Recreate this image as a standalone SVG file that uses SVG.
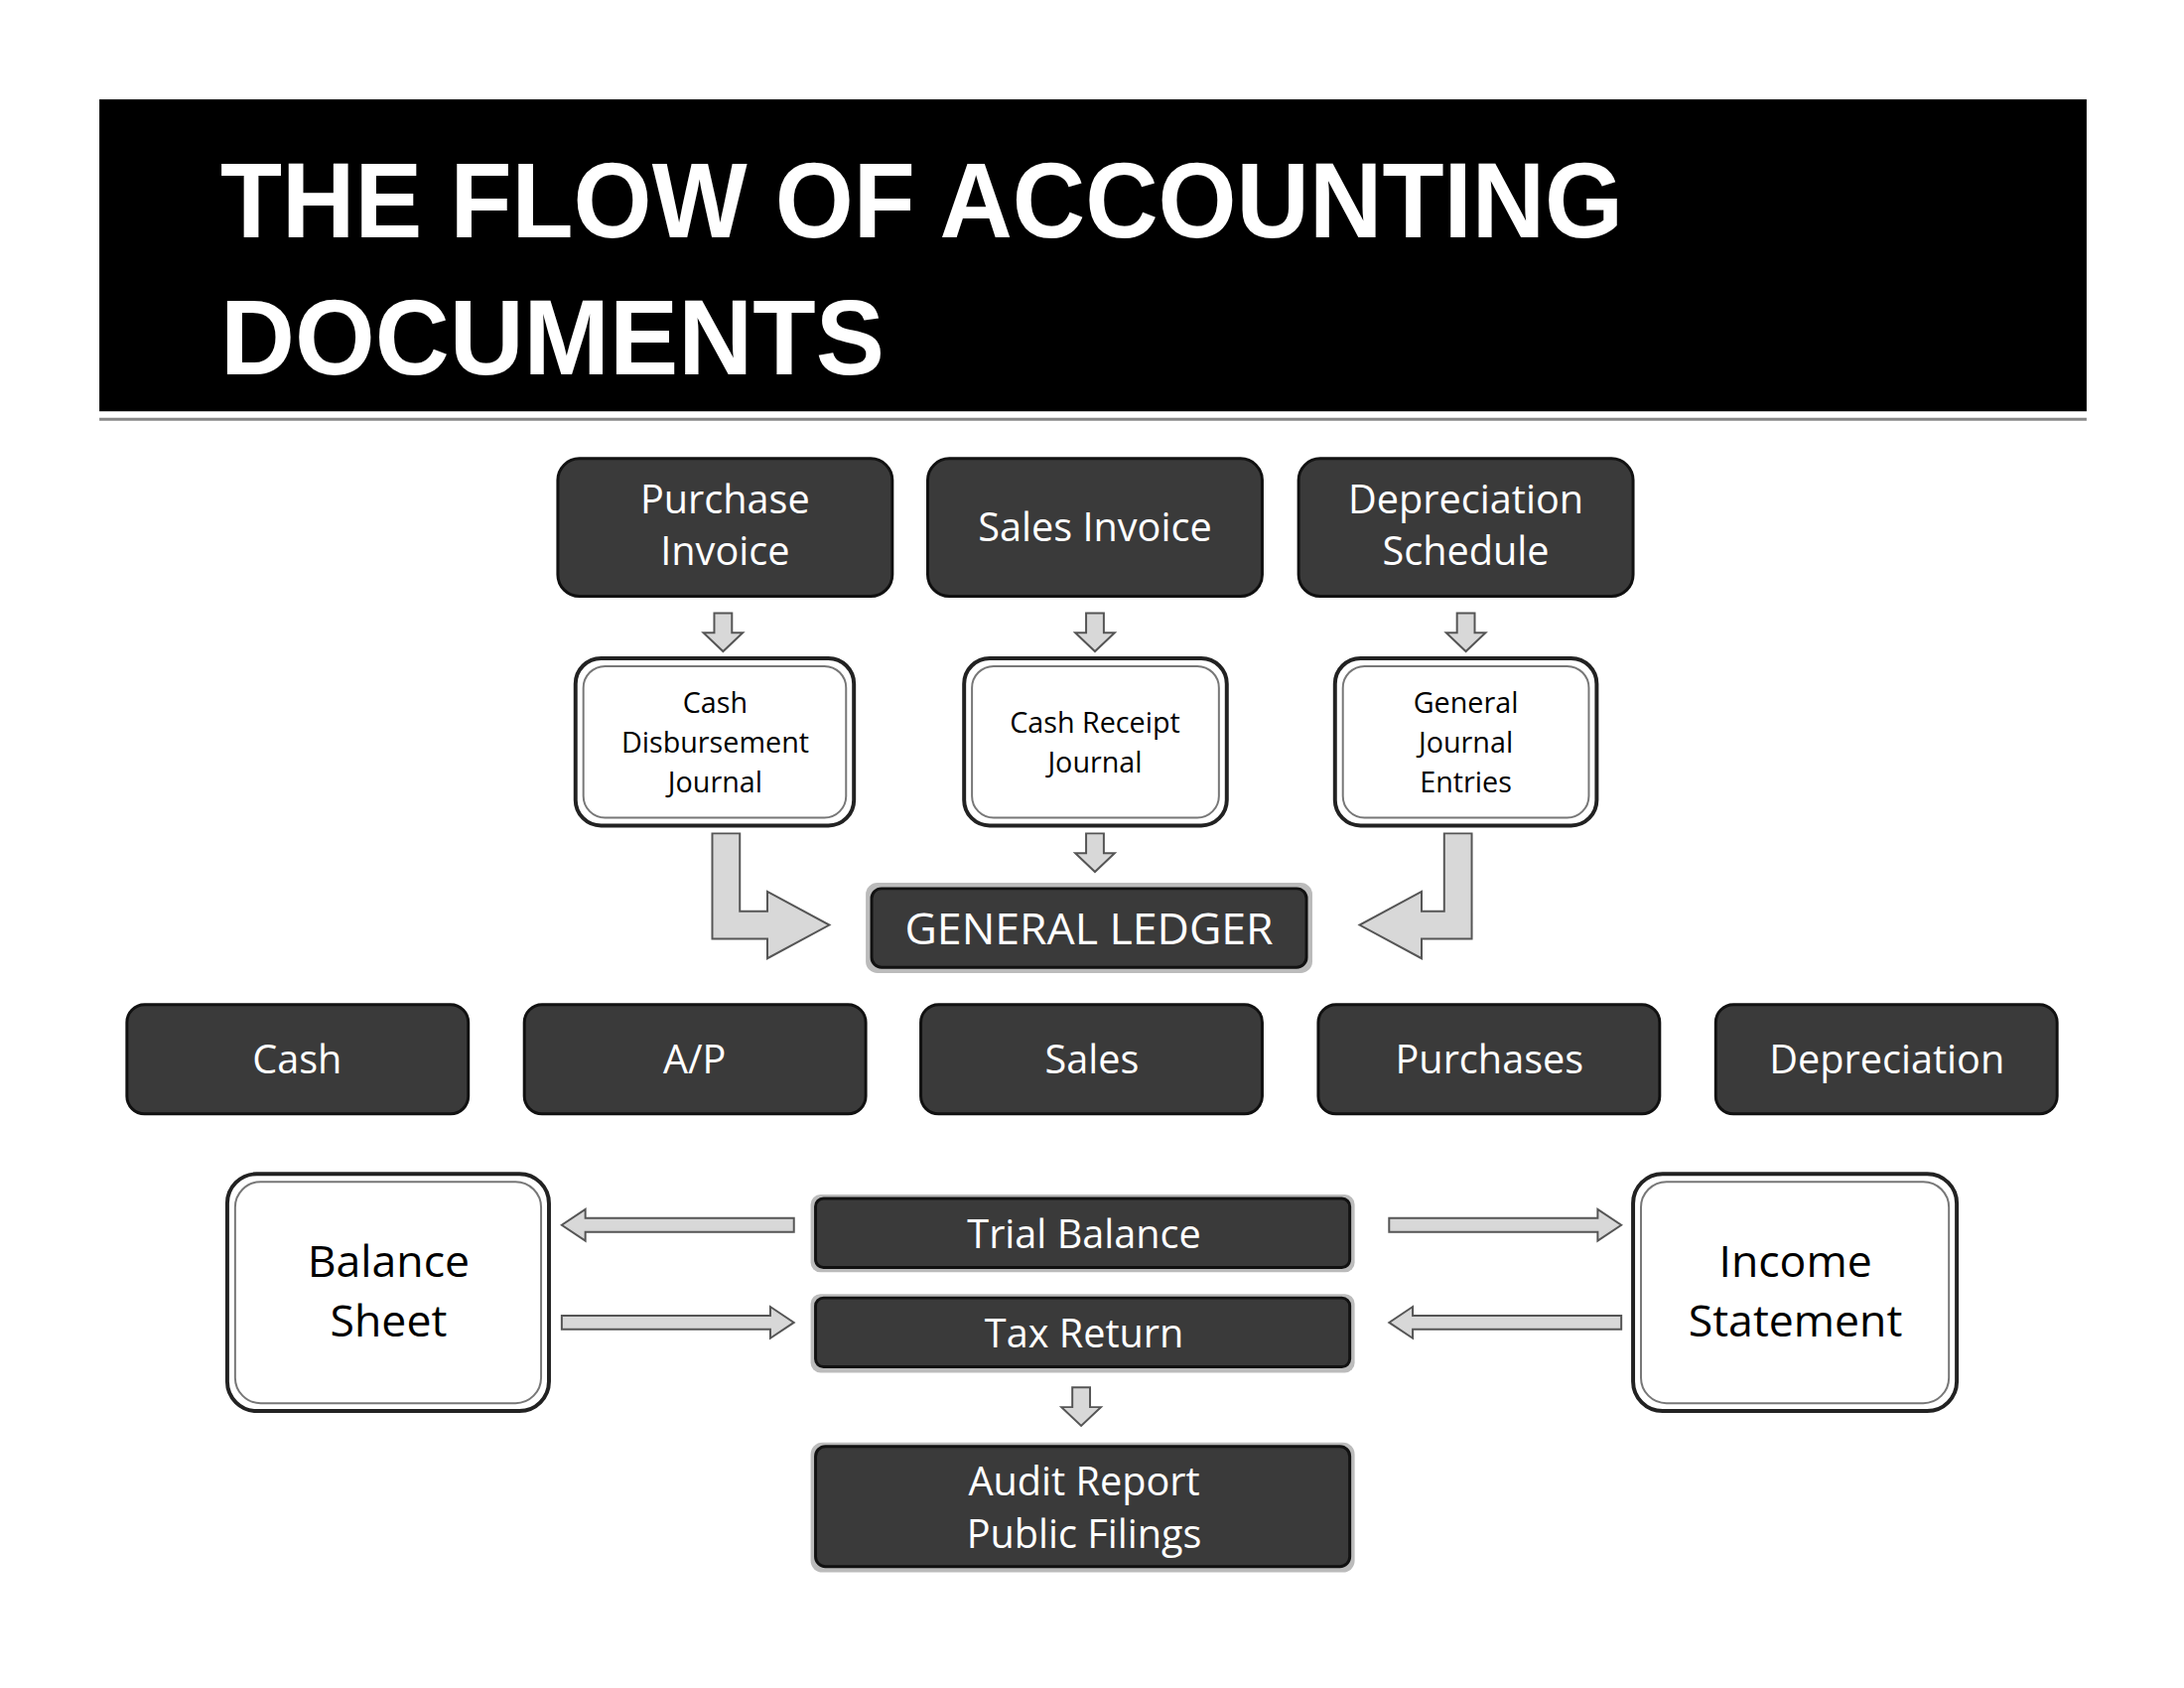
<svg xmlns="http://www.w3.org/2000/svg" width="2200" height="1700" viewBox="0 0 2200 1700">
<style>
.dk{fill:#3a3a3a;stroke:#111;stroke-width:3}
.wt{fill:#fff;stroke:#222;stroke-width:4}
.wt2{fill:none;stroke:#777;stroke-width:2}
.ar{fill:#d8d8d8;stroke:#555;stroke-width:2}
.t{font-family:"Open Sans","Liberation Sans",sans-serif;text-anchor:middle}
.w{fill:#fff}
.b{fill:#000}
</style>
<rect width="2200" height="1700" fill="#fff"/>
<g transform="scale(0.991)">
<rect x="101" y="101" width="2020" height="317" fill="#000"/>
<line x1="101" y1="426" x2="2121" y2="426" stroke="#888" stroke-width="3"/>
<text x="224" y="241" font-family="Liberation Sans,sans-serif" font-weight="bold" font-size="108" fill="#fff" textLength="1426" lengthAdjust="spacingAndGlyphs">THE FLOW OF ACCOUNTING</text>
<text x="224" y="380" font-family="Liberation Sans,sans-serif" font-weight="bold" font-size="108" fill="#fff" textLength="675" lengthAdjust="spacingAndGlyphs">DOCUMENTS</text>

<g id="connectors">
<path class="ar" d="M726,623 h18 v20 h11 l-20,19 l-20,-19 h11z"/>
<path class="ar" d="M1104,623 h18 v20 h11 l-20,19 l-20,-19 h11z"/>
<path class="ar" d="M1481,623 h18 v20 h11 l-20,19 l-20,-19 h11z"/>
<path class="ar" d="M1104,847 h18 v20 h11 l-20,19 l-20,-19 h11z"/>
<path class="ar" d="M1090,1410 h18 v20 h11 l-20,19 l-20,-19 h11z"/>
<path class="ar" d="M724,847 h28 v79 h28 v-20 l63,34 l-63,34 v-20 h-56z"/>
<path class="ar" d="M1496,847 h-28 v79 h-23 v-20 l-63,34 l63,34 v-20 h51z"/>
<path class="ar" d="M807,1238 v14 h-212 v9 l-24,-16 l24,-16 v9z"/>
<path class="ar" d="M571,1337 v14 h212 v9 l24,-16 l-24,-16 v9z"/>
<path class="ar" d="M1412,1238 v14 h212 v9 l24,-16 l-24,-16 v9z"/>
<path class="ar" d="M1648,1337 v14 h-212 v9 l-24,-16 l24,-16 v9z"/>
</g>

<g id="purchase-invoice"><rect class="dk" x="567" y="466" width="340" height="140" rx="22"/><text class="t w" x="737" y="522" font-size="40">Purchase</text><text class="t w" x="737" y="574" font-size="40">Invoice</text></g>
<g id="sales-invoice"><rect class="dk" x="943" y="466" width="340" height="140" rx="22"/><text class="t w" x="1113" y="550" font-size="40">Sales Invoice</text></g>
<g id="depreciation-schedule"><rect class="dk" x="1320" y="466" width="340" height="140" rx="22"/><text class="t w" x="1490" y="522" font-size="40">Depreciation</text><text class="t w" x="1490" y="574" font-size="40">Schedule</text></g>

<g id="cash-disbursement"><rect class="wt" x="585" y="669" width="283" height="170" rx="26"/><rect class="wt2" x="593" y="677" width="267" height="154" rx="22"/><text class="t b" x="727" y="725" font-size="29">Cash</text><text class="t b" x="727" y="765" font-size="29">Disbursement</text><text class="t b" x="727" y="805" font-size="29">Journal</text></g>
<g id="cash-receipt"><rect class="wt" x="980" y="669" width="267" height="170" rx="26"/><rect class="wt2" x="988" y="677" width="251" height="154" rx="22"/><text class="t b" x="1113" y="745" font-size="29">Cash Receipt</text><text class="t b" x="1113" y="785" font-size="29">Journal</text></g>
<g id="general-journal"><rect class="wt" x="1357" y="669" width="266" height="170" rx="26"/><rect class="wt2" x="1365" y="677" width="250" height="154" rx="22"/><text class="t b" x="1490" y="725" font-size="29">General</text><text class="t b" x="1490" y="765" font-size="29">Journal</text><text class="t b" x="1490" y="805" font-size="29">Entries</text></g>

<g id="general-ledger"><rect x="880" y="897" width="454" height="92" rx="12" fill="#bbb"/><rect class="dk" x="886" y="903" width="442" height="80" rx="10"/><text class="t w" x="1107" y="960" font-size="45">GENERAL LEDGER</text></g>

<g id="cash"><rect class="dk" x="129" y="1021" width="347" height="111" rx="18"/><text class="t w" x="302" y="1091" font-size="40">Cash</text></g>
<g id="ap"><rect class="dk" x="533" y="1021" width="347" height="111" rx="18"/><text class="t w" x="706" y="1091" font-size="40">A/P</text></g>
<g id="sales"><rect class="dk" x="936" y="1021" width="347" height="111" rx="18"/><text class="t w" x="1110" y="1091" font-size="40">Sales</text></g>
<g id="purchases"><rect class="dk" x="1340" y="1021" width="347" height="111" rx="18"/><text class="t w" x="1514" y="1091" font-size="40">Purchases</text></g>
<g id="depreciation"><rect class="dk" x="1744" y="1021" width="347" height="111" rx="18"/><text class="t w" x="1918" y="1091" font-size="40">Depreciation</text></g>

<g id="balance-sheet"><rect class="wt" x="231" y="1193" width="327" height="241" rx="30"/><rect class="wt2" x="239" y="1201" width="311" height="225" rx="26"/><text class="t b" x="395" y="1298" font-size="45">Balance</text><text class="t b" x="395" y="1358" font-size="45">Sheet</text></g>
<g id="income-statement"><rect class="wt" x="1660" y="1193" width="329" height="241" rx="30"/><rect class="wt2" x="1668" y="1201" width="313" height="225" rx="26"/><text class="t b" x="1825" y="1298" font-size="45">Income</text><text class="t b" x="1825" y="1358" font-size="45">Statement</text></g>

<g id="trial-balance"><rect x="824" y="1214" width="553" height="79" rx="10" fill="#bbb"/><rect class="dk" x="829" y="1218" width="543" height="70" rx="8"/><text class="t w" x="1102" y="1268" font-size="40">Trial Balance</text></g>
<g id="tax-return"><rect x="824" y="1315" width="553" height="80" rx="10" fill="#bbb"/><rect class="dk" x="829" y="1319" width="543" height="70" rx="8"/><text class="t w" x="1102" y="1369" font-size="40">Tax Return</text></g>
<g id="audit-report"><rect x="824" y="1466" width="553" height="132" rx="12" fill="#bbb"/><rect class="dk" x="829" y="1470" width="543" height="122" rx="10"/><text class="t w" x="1102" y="1520" font-size="40">Audit Report</text><text class="t w" x="1102" y="1573" font-size="40">Public Filings</text></g>
</g>
</svg>
